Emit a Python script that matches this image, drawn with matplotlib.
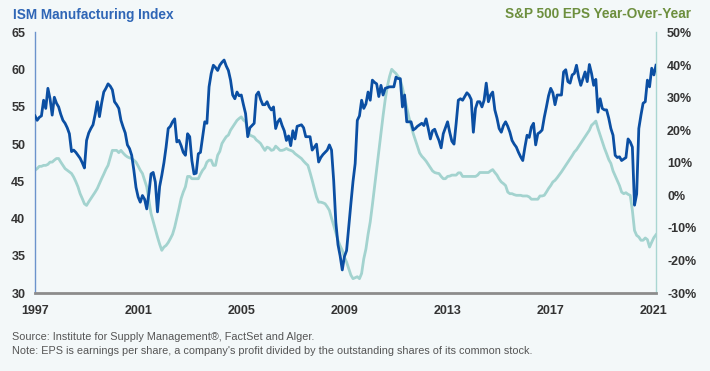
import numpy as np
import matplotlib
matplotlib.use("Agg")
import matplotlib.pyplot as plt
from matplotlib import font_manager

# ---------------- data ----------------
ism = [
    53.8, 53.2, 53.6, 53.8, 55.9, 54.8, 57.5, 56.1, 53.9, 56.3, 55.5, 55.0,  # 1997
    54.0, 53.2, 52.8, 52.2, 51.4, 49.0, 49.2, 48.9, 48.5, 48.1, 47.5, 46.8,  # 1998
    50.5, 51.5, 52.1, 52.6, 54.0, 55.7, 53.7, 55.5, 57.0, 57.5, 58.1, 57.8,  # 1999
    57.3, 55.7, 55.3, 54.8, 53.2, 52.3, 51.5, 49.9, 49.4, 48.5, 46.5, 44.2,  # 2000
    42.9, 42.2, 43.1, 42.6, 41.3, 43.4, 46.0, 46.2, 44.9, 40.9, 44.3, 45.8,  # 2001
    47.5, 49.6, 52.1, 52.4, 53.0, 53.4, 50.3, 50.5, 49.8, 48.9, 48.5, 51.4,  # 2002
    51.0, 47.8, 46.0, 46.1, 48.7, 48.9, 51.0, 53.0, 52.8, 57.7, 59.5, 60.6,  # 2003
    60.3, 59.9, 60.6, 61.0, 61.3, 60.5, 59.9, 58.6, 56.6, 56.1, 57.0, 56.5,  # 2004
    56.6, 55.3, 54.1, 51.0, 52.2, 52.5, 52.8, 56.6, 57.0, 56.0, 55.3, 55.3,  # 2005
    55.7, 55.0, 54.6, 55.0, 52.1, 53.0, 53.4, 52.5, 51.8, 50.5, 51.1, 49.8,  # 2006
    51.8, 50.7, 52.4, 52.5, 52.6, 52.2, 51.0, 51.0, 51.0, 49.2, 49.6, 50.0,  # 2007
    47.6, 48.2, 48.6, 48.9, 49.2, 49.9, 49.2, 45.1, 39.5, 36.5, 35.0, 33.1,  # 2008
    34.9, 35.7, 38.9, 42.0, 45.0, 47.4, 53.2, 53.8, 55.9, 54.8, 55.4, 57.0,  # 2009
    55.9, 58.6, 58.3, 58.1, 56.4, 57.9, 56.6, 57.5, 57.6, 57.7, 57.7, 57.7,  # 2010
    59.0, 58.8, 58.8, 55.0, 56.6, 53.0, 53.0, 53.0, 51.9, 52.1, 52.4, 52.6,  # 2011
    52.8, 52.5, 53.4, 52.1, 50.7, 51.8, 52.0, 51.2, 50.5, 49.5, 51.4, 52.2,  # 2012
    53.0, 51.6, 50.4, 50.0, 52.8, 55.9, 56.1, 55.9, 56.4, 56.9, 56.6, 56.0,  # 2013
    51.6, 54.8, 55.7, 55.7, 55.0, 55.9, 58.2, 55.7, 56.6, 57.0, 54.6, 53.5,  # 2014
    52.1, 51.6, 52.5, 53.0, 52.4, 51.6, 50.5, 50.0, 49.6, 48.9, 48.3, 47.8,  # 2015
    49.6, 51.2, 50.9, 52.3, 52.8, 49.9, 51.4, 51.6, 51.9, 53.6, 55.0, 56.5,  # 2016
    57.5, 56.9, 55.3, 56.6, 56.6, 56.6, 59.7, 60.0, 58.4, 58.2, 59.3, 59.5,  # 2017
    60.6, 59.0, 57.9, 58.8, 59.7, 58.4, 60.7, 59.5, 57.9, 58.7, 54.3, 56.1,  # 2018
    54.8, 54.6, 54.6, 53.5, 52.1, 51.2, 48.5, 48.2, 48.3, 47.8, 48.0, 48.2,  # 2019
    50.7, 50.3, 49.6, 41.8, 43.3, 52.1, 53.9, 55.5, 55.7, 58.6, 57.7, 60.2,  # 2020
    59.3, 60.6,                                                              # 2021
]

eps_yoy = [
    7.7, 8.2, 8.9, 8.9, 9.2, 9.2, 9.5, 10.2, 10.2, 10.8, 11.3, 11.3,  # 1997
    10.2, 9.2, 8.2, 7.7, 7.2, 6.7, 5.6, 4.2, 2.6, 0.5, -1.0, -2.6,  # 1998
    -3.1, -2.0, -1.0, 0.0, 1.0, 2.1, 3.6, 5.1, 6.5, 8.0, 9.2, 11.5,  # 1999
    13.8, 13.8, 13.8, 13.1, 13.8, 13.0, 12.3, 11.8, 11.5, 11.3, 10.8, 10.2,  # 2000
    9.0, 7.7, 6.7, 4.6, 2.6, -1.5, -5.6, -8.0, -10.4, -12.8, -15.0, -16.9,  # 2001
    -15.9, -15.4, -14.5, -13.3, -12.0, -9.8, -7.0, -4.1, -1.0, 1.0, 2.6, 5.8,  # 2002
    5.8, 5.1, 5.1, 5.1, 5.1, 6.5, 7.7, 8.5, 10.2, 10.8, 10.8, 9.2,  # 2003
    9.2, 12.3, 13.5, 15.9, 17.0, 18.0, 18.5, 20.0, 21.0, 22.0, 23.0, 23.6,  # 2004
    24.1, 23.1, 22.6, 20.0, 18.5, 18.2, 17.9, 17.0, 16.5, 15.9, 14.8, 13.8,  # 2005
    14.8, 14.5, 13.8, 14.0, 15.1, 14.5, 13.8, 13.8, 14.0, 14.4, 14.0, 13.8,  # 2006
    13.5, 12.8, 12.3, 11.8, 11.3, 10.5, 9.8, 9.2, 7.0, 4.6, 2.0, -0.5,  # 2007
    -2.1, -2.1, -2.3, -2.6, -3.5, -4.6, -7.0, -9.2, -11.5, -13.8, -15.5, -16.9,  # 2008
    -19.0, -20.5, -22.5, -24.5, -25.6, -25.3, -25.0, -25.6, -24.0, -19.5, -16.5, -12.0,  # 2009
    -8.2, -3.0, 2.5, 8.0, 13.5, 19.0, 24.5, 29.5, 33.5, 36.5, 38.7, 38.0,  # 2010
    37.4, 36.5, 35.5, 33.0, 30.0, 27.0, 24.0, 21.5, 19.0, 17.0, 15.0, 13.0,  # 2011
    12.0, 11.3, 10.5, 9.5, 8.5, 7.5, 7.0, 6.8, 6.7, 5.8, 5.1, 5.1,  # 2012
    5.8, 5.9, 6.2, 6.2, 6.2, 6.9, 6.9, 5.8, 5.8, 5.8, 5.8, 5.8,  # 2013
    5.8, 5.8, 6.2, 7.0, 7.0, 7.0, 7.0, 7.0, 7.5, 7.9, 7.0, 6.2,  # 2014
    5.0, 4.1, 3.6, 3.0, 1.0, 0.5, 0.5, 0.2, 0.0, 0.0, 0.0, -0.2,  # 2015
    -0.2, -0.2, -0.5, -1.2, -1.2, -1.2, -1.2, -0.2, -0.2, 0.0, 1.0, 2.1,  # 2016
    3.0, 4.1, 4.6, 5.4, 6.3, 7.2, 8.2, 9.2, 10.2, 11.2, 12.2, 13.3,  # 2017
    14.0, 15.0, 16.0, 17.0, 18.0, 19.0, 20.0, 21.5, 22.1, 22.8, 20.5, 18.5,  # 2018
    16.4, 14.5, 12.8, 11.0, 9.8, 7.5, 6.0, 4.5, 3.0, 1.0, 0.5, 0.8,  # 2019
    0.3, 0.0, -4.6, -10.8, -12.3, -12.8, -13.8, -13.8, -13.1, -13.6, -15.9, -14.4,  # 2020
    -13.0, -12.1,  # 2021
]

start_year = 1997
year_ticks = [1997, 2001, 2005, 2009, 2013, 2017, 2021]
left_ticks = [30, 35, 40, 45, 50, 55, 60, 65]
right_ticks = [-30, -20, -10, 0, 10, 20, 30, 40, 50]

left_title = "ISM Manufacturing Index"
right_title = "S&P 500 EPS Year-Over-Year"
note1 = "Source: Institute for Supply Management\u00ae, FactSet and Alger."
note2 = "Note: EPS is earnings per share, a company's profit divided by the outstanding shares of its common stock."

# ---------------- style ----------------
installed = {f.name for f in font_manager.fontManager.ttflist}
narrow = "Liberation Sans Narrow" if "Liberation Sans Narrow" in installed else (
    "DejaVu Sans Condensed" if "DejaVu Sans Condensed" in installed else "Liberation Sans")
plt.rcParams["font.family"] = [narrow, "DejaVu Sans"]

BG = "#f3f8f9"
ISM_C = "#0b4fa3"
EPS_C = "#a3d3cf"
TXT = "#333333"

fig = plt.figure(figsize=(7.10, 3.71), dpi=100, facecolor=BG)
ax = fig.add_axes([35 / 710, 1 - 293 / 371, (656 - 35) / 710, (293 - 32.5) / 371])
ax2 = ax.twinx()

months = np.arange(len(ism))
x = start_year + months / 12.0

ax2.plot(x, eps_yoy, color=EPS_C, lw=2.0, solid_joinstyle="round", zorder=2)
ax.plot(x, ism, color=ISM_C, lw=2.0, solid_joinstyle="round", zorder=3)

ax.set_zorder(ax2.get_zorder() + 1)
ax.patch.set_visible(False)
ax2.set_facecolor(BG)

ax.set_xlim(start_year, start_year + (len(ism) - 1) / 12.0)
ax.set_ylim(30, 65)
ax2.set_ylim(-30, 50)

ax.set_xticks(year_ticks)
ax.set_xticklabels([str(y) for y in year_ticks])
ax.set_yticks(left_ticks)
ax.set_yticklabels([str(v) for v in left_ticks])
ax2.set_yticks(right_ticks)
ax2.set_yticklabels([f"{v}%" for v in right_ticks])

ax.tick_params(axis="x", length=0, pad=9, labelsize=9, labelcolor=TXT)
ax.tick_params(axis="y", length=0, pad=7, labelsize=9, labelcolor=TXT)
ax2.tick_params(axis="y", length=0, pad=8, labelsize=9, labelcolor=TXT)
for lab in ax.get_xticklabels() + ax.get_yticklabels() + ax2.get_yticklabels():
    lab.set_fontweight("bold")

for a in (ax, ax2):
    a.spines["top"].set_visible(False)
ax.spines["right"].set_visible(False)
ax2.spines["left"].set_visible(False)
ax2.spines["bottom"].set_visible(False)
ax.spines["left"].set_color("#6b93cc")
ax.spines["left"].set_linewidth(1.0)
ax2.spines["right"].set_color("#a9d6d2")
ax2.spines["right"].set_linewidth(1.0)
ax.spines["bottom"].set_color("#8c8c8c")
ax.spines["bottom"].set_linewidth(2.0)

fig.text(13 / 710, 1 - 14.5 / 371, left_title, color="#2f66b6", fontsize=9.8,
         fontweight="bold", ha="left", va="center")
fig.text(691 / 710, 1 - 14.5 / 371, right_title, color="#6d8f3e", fontsize=9.8,
         fontweight="bold", ha="right", va="center")
fig.text(12 / 710, 1 - 337 / 371, note1, color="#555555", fontsize=7.8,
         ha="left", va="center")
fig.text(12 / 710, 1 - 351 / 371, note2, color="#555555", fontsize=7.8,
         ha="left", va="center")

fig.savefig("out.png", dpi=100, facecolor=BG)
